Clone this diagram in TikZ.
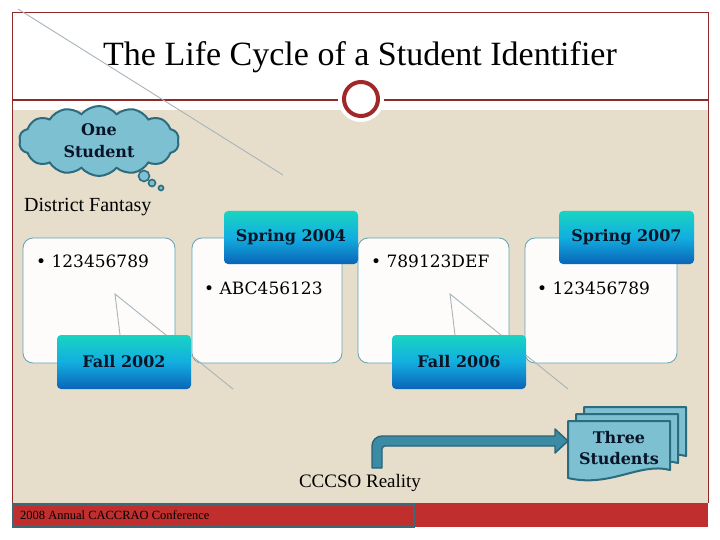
\documentclass[tikz,border=0pt]{standalone}
\usepackage{fontspec}
\setmainfont{Liberation Serif}
\newfontfamily\dvs{DejaVu Serif}
\usetikzlibrary{shapes.symbols}
\definecolor{beige}{HTML}{E6DDCB}
\definecolor{framered}{HTML}{8E2A2A}
\definecolor{ringred}{HTML}{A02828}
\definecolor{barred}{HTML}{C12E2E}
\definecolor{footedge}{HTML}{3A6A78}
\definecolor{ltop}{HTML}{19D4C2}
\definecolor{lmid}{HTML}{12AEE0}
\definecolor{lbot}{HTML}{0A64B8}
\definecolor{navy}{HTML}{0A1428}
\definecolor{grayline}{HTML}{A8B4BC}
\definecolor{cloudfill}{HTML}{7CC0D2}
\definecolor{cloudedge}{HTML}{2C6C7E}
\definecolor{arrfill}{HTML}{3A8BA3}
\definecolor{arredge}{HTML}{2A6478}
\definecolor{boxedge}{HTML}{5FA3B5}
\definecolor{boxfill}{HTML}{FDFCFA}
\begin{document}
\begin{tikzpicture}[x=1pt,y=-1pt,
  lbl/.style={rounded corners=4pt, minimum width=134pt, minimum height=53pt,
    top color=ltop, bottom color=lbot, middle color=lmid, text=navy, inner sep=0pt,
    font=\dvs\bfseries\fontsize{16}{18}\selectfont},
  wbox/.style={draw=boxedge, line width=0.8pt, fill=boxfill, rounded corners=10pt,
    minimum height=125pt, inner sep=0pt},
  bul/.style={anchor=west, text=black, inner sep=0pt, font=\dvs\fontsize{17}{19}\selectfont},
  gline/.style={draw=grayline, line width=0.9pt},
  bubble/.style={circle, draw=cloudedge, fill=cloudfill, line width=1.6pt, inner sep=0pt},
  docst/.style={draw=cloudedge, fill=cloudfill, line width=2pt, line join=round},
  plain/.style={inner sep=0pt, text=black}]
\useasboundingbox (0,0) rectangle (720,540);
\fill[white] (0,0) rectangle (720,540);
% background regions
\fill[beige] (12,110) rectangle (708,503);
\draw[framered, line width=0.9pt] (12,503) -- (12,12) -- (708,12) -- (708,503);
\draw[framered, line width=1.3pt] (12,100) -- (708,100);
% ring
\node[circle, fill=white, minimum size=46pt, inner sep=0pt] (halo) at (361,99) {};
\node[circle, draw=ringred, line width=4pt, fill=white, minimum size=34pt, inner sep=0pt] (ring) at (361,99) {};
% title
\node[plain, font=\fontsize{34}{40}\selectfont] (title) at (360,57) {The Life Cycle of a Student Identifier};
% stray gray line
\coordinate (g1a) at (18,9);
\coordinate (g1b) at (283,175);
\draw[gline] (g1a) -- (g1b);
% cloud
\node[cloud, cloud puffs=14, cloud puff arc=100, aspect=2.4, draw=cloudedge, fill=cloudfill, line width=2pt,
  minimum width=160pt, minimum height=70pt, inner sep=0pt, align=center, text=navy,
  font=\dvs\bfseries\fontsize{16}{22}\selectfont] (cloud) at (99,141) {One\\Student};
\node[bubble, minimum size=11pt] (b1) at (144,176) {};
\node[bubble, minimum size=7pt] (b2) at (152,183) {};
\node[bubble, minimum size=5pt] (b3) at (161,188) {};
% District Fantasy
\node[plain, anchor=west, font=\fontsize{20}{22}\selectfont] (district) at (24,207) {District Fantasy};
% white boxes
\node[wbox, minimum width=152pt] (box1) at (99,300.5) {};
\node[wbox, minimum width=150pt] (box2) at (267,300.5) {};
\node[wbox, minimum width=151pt] (box3) at (433.5,300.5) {};
\node[wbox, minimum width=152pt] (box4) at (601,300.5) {};
% bullet texts
\node[bul] (t1) at (36,261) {• 123456789};
\node[bul] (t2) at (204,288) {• ABC456123};
\node[bul] (t3) at (371,261) {• 789123DEF};
\node[bul] (t4) at (537,288) {• 123456789};
% stray triangles
\coordinate (p1) at (115,294);
\coordinate (p2) at (120,335);
\coordinate (p3) at (233,389);
\draw[gline] (p2) -- (p1) -- (p3);
\coordinate (q1) at (450,294);
\coordinate (q2) at (455,335);
\coordinate (q3) at (568,389);
\draw[gline] (q2) -- (q1) -- (q3);
% labels
\node[lbl] (spr04) at (291,237.5) {Spring 2004};
\node[lbl, minimum height=54pt] (fal02) at (124,362) {Fall 2002};
\node[lbl, minimum width=135pt] (spr07) at (626.5,237.5) {Spring 2007};
\node[lbl, minimum height=54pt] (fal06) at (459,362) {Fall 2006};
% documents (three students)
\begin{scope}[shift={(16,-14)}]
\draw[docst] (568,421) -- (670,421) -- (670,470) .. controls (640,462) and (610,488) .. (568,478) -- cycle;
\end{scope}
\begin{scope}[shift={(8,-7)}]
\draw[docst] (568,421) -- (670,421) -- (670,470) .. controls (640,462) and (610,488) .. (568,478) -- cycle;
\end{scope}
\draw[docst] (568,421) -- (670,421) -- (670,470) .. controls (640,462) and (610,488) .. (568,478) -- cycle;
\node[plain, align=center, text=navy, font=\dvs\bfseries\fontsize{16}{21}\selectfont] (three) at (619,448.5) {Three\\Students};
% bent arrow
\coordinate (arrstart) at (377,468);
\coordinate (arrtip) at (568,441);
\draw[fill=arrfill, draw=arredge, line width=1.4pt, line join=round]
  (372,468) [rounded corners=10pt] -- (372,436) [sharp corners] -- (555,436) -- (555,429)
  -- (arrtip) -- (555,453) -- (555,446) [rounded corners=3pt] -- (382,446) [sharp corners]
  -- (382,468) -- cycle;
% CCCSO Reality
\node[plain, font=\fontsize{19}{22}\selectfont] (cccso) at (360,483) {CCCSO Reality};
% bottom bar
\fill[barred] (12,503) rectangle (708,527);
\draw[footedge, line width=2.5pt, fill=barred] (13,504.5) rectangle (414,527);
\node[plain, anchor=west, font=\fontsize{12.5}{14}\selectfont] (footer) at (20,515.5) {2008 Annual CACCRAO Conference};
\end{tikzpicture}
\end{document}
